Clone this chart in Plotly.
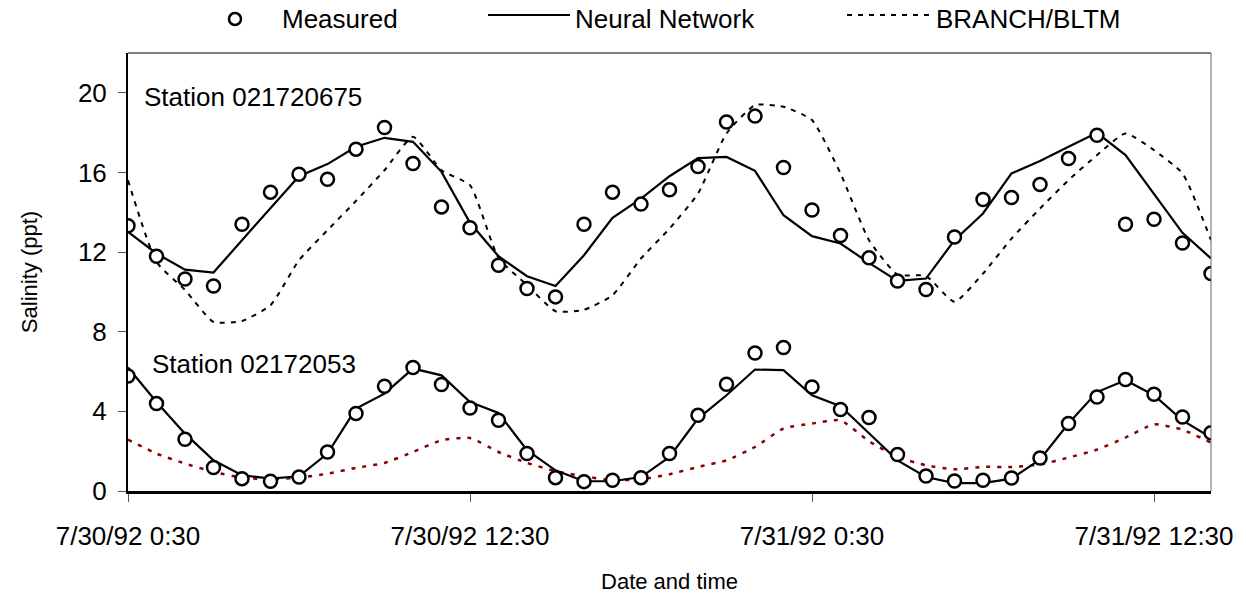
import pandas as pd
import plotly.graph_objects as go

# hourly timestamps 7/30/92 0:30 .. 7/31/92 14:30
times = pd.date_range("1992-07-30 00:30", periods=39, freq="h")

meas_upper = [13.32, 11.79, 10.65, 10.30, 13.40, 15.01, 15.91, 15.66, 17.17, 18.26, 16.45, 14.27, 13.22,
              11.34, 10.17, 9.75, 13.40, 15.01, 14.41, 15.13, 16.30, 18.53, 18.83, 16.25, 14.11, 12.83, 11.71,
              10.55, 10.12, 12.76, 14.64, 14.74, 15.40, 16.70, 17.87, 13.40, 13.65, 12.46, 10.92]
nn_upper = [13.02, 11.93, 11.12, 10.97, 12.60, 14.19, 15.81, 16.42, 17.29, 17.74, 17.54, 16.03, 13.47,
            11.79, 10.79, 10.30, 11.84, 13.72, 14.69, 15.81, 16.72, 16.78, 16.08, 13.85, 12.80, 12.43, 11.46,
            10.55, 10.67, 12.60, 13.94, 15.95, 16.58, 17.29, 17.99, 16.87, 14.91, 12.97, 11.68]
branch_upper = [15.61, 11.50, 10.10, 8.49, 8.54, 9.33, 11.59, 13.10, 14.57, 16.11, 17.79, 16.11, 15.36,
                11.70, 10.35, 9.03, 9.10, 9.83, 11.68, 13.18, 14.94, 17.96, 19.38, 19.30, 18.63, 15.95, 12.60,
                10.87, 10.80, 9.50, 10.92, 12.68, 14.19, 15.61, 16.87, 17.96, 17.12, 15.95, 12.60]

meas_lower = [5.78, 4.39, 2.60, 1.18, 0.62, 0.49, 0.70, 1.96, 3.89, 5.26, 6.20, 5.35, 4.17,
              3.55, 1.88, 0.67, 0.47, 0.54, 0.67, 1.88, 3.80, 5.36, 6.93, 7.21, 5.23, 4.09, 3.69,
              1.83, 0.75, 0.50, 0.54, 0.65, 1.66, 3.39, 4.72, 5.60, 4.86, 3.72, 2.93]
nn_lower = [6.20, 4.47, 2.88, 1.54, 0.79, 0.62, 0.74, 1.88, 4.14, 4.89, 6.15, 5.81, 4.47,
            3.92, 2.05, 1.04, 0.49, 0.49, 0.70, 1.71, 3.64, 4.81, 6.10, 6.07, 4.81, 4.26, 2.90,
            1.54, 0.70, 0.40, 0.40, 0.62, 1.58, 3.39, 4.97, 5.56, 4.81, 3.55, 2.68]
branch_lower = [2.58, 1.88, 1.38, 0.96, 0.67, 0.59, 0.67, 0.87, 1.16, 1.41, 1.96, 2.55, 2.66,
                1.96, 1.41, 1.00, 0.74, 0.54, 0.59, 0.84, 1.21, 1.54, 2.21, 3.14, 3.39, 3.55, 2.50,
                1.71, 1.29, 1.09, 1.21, 1.21, 1.33, 1.68, 2.08, 2.68, 3.35, 3.08, 2.43]

tick_vals = ["1992-07-30 00:30", "1992-07-30 12:30", "1992-07-31 00:30", "1992-07-31 12:30"]
tick_text = ["7/30/92 0:30", "7/30/92 12:30", "7/31/92 0:30", "7/31/92 12:30"]
y_ticks = [0, 4, 8, 12, 16, 20]

FONT = "Liberation Sans, Arial, sans-serif"
NARROW = "Liberation Sans Narrow, Arial Narrow, Liberation Sans, sans-serif"
DARKRED = "#8B0000"

fig = go.Figure()

fig.add_trace(go.Scatter(x=times, y=branch_upper, mode="lines", name="BRANCH/BLTM",
                         line=dict(color="black", width=2, dash="5px,6px", shape="spline", smoothing=0.5)))
fig.add_trace(go.Scatter(x=times, y=branch_lower, mode="lines", name="BRANCH/BLTM (02172053)",
                         line=dict(color=DARKRED, width=2.5, dash="4px,7px", shape="spline", smoothing=0.5)))
fig.add_trace(go.Scatter(x=times, y=nn_upper, mode="lines", name="Neural Network",
                         line=dict(color="black", width=2.2)))
fig.add_trace(go.Scatter(x=times, y=nn_lower, mode="lines", name="Neural Network (02172053)",
                         line=dict(color="black", width=2.2)))
fig.add_trace(go.Scatter(x=times, y=meas_upper, mode="markers", name="Measured",
                         marker=dict(symbol="circle", size=13, color="white",
                                     line=dict(color="black", width=2.5))))
fig.add_trace(go.Scatter(x=times, y=meas_lower, mode="markers", name="Measured (02172053)",
                         marker=dict(symbol="circle", size=13, color="white",
                                     line=dict(color="black", width=2.5))))

# target plot-area box in page pixels (body margin removed below)
W, H = 1246, 594
PL, PR, PT, PB = 128, 1211, 53, 491
L, T, R, B = PL, PT, W - PR, H - PB
PW = PR - PL
PH = PB - PT


def px(xpix):
    return (xpix - PL) / PW


def py(ypix):
    return (PB - ypix) / PH


shapes = [
    dict(type="line", xref="paper", yref="paper", x0=0, x1=1, y0=1, y1=1,
         line=dict(color="black", width=1)),
    dict(type="line", xref="paper", yref="paper", x0=1, x1=1, y0=0, y1=1,
         line=dict(color="#666666", width=1)),
    dict(type="circle", xref="paper", yref="paper", xsizemode="pixel", ysizemode="pixel",
         xanchor=px(235), yanchor=py(19), x0=-6, x1=6, y0=-6, y1=6,
         line=dict(color="black", width=2.5), fillcolor="white"),
    dict(type="line", xref="paper", yref="paper", x0=px(488), x1=px(570), y0=py(15), y1=py(15),
         line=dict(color="black", width=2.2)),
    dict(type="line", xref="paper", yref="paper", x0=px(847), x1=px(930), y0=py(15), y1=py(15),
         line=dict(color="black", width=2.2, dash="5px,6px")),
]

annotations = [
    dict(text="Measured", xref="paper", yref="paper", x=px(280), y=py(19), xanchor="left",
         yanchor="middle", showarrow=False, font=dict(family=FONT, size=26, color="black")),
    dict(text="Neural Network", xref="paper", yref="paper", x=px(573), y=py(19), xanchor="left",
         yanchor="middle", showarrow=False, font=dict(family=FONT, size=26, color="black")),
    dict(text="BRANCH/BLTM", xref="paper", yref="paper", x=px(934), y=py(19), xanchor="left",
         yanchor="middle", showarrow=False, font=dict(family=FONT, size=26, color="black")),
    dict(text="Station 021720675", xref="paper", yref="paper", x=px(142), y=py(97), xanchor="left",
         yanchor="middle", showarrow=False, font=dict(family=FONT, size=26, color="black")),
    dict(text="Station 02172053", xref="paper", yref="paper", x=px(150), y=py(364), xanchor="left",
         yanchor="middle", showarrow=False, font=dict(family=FONT, size=26, color="black")),
]

fig.update_layout(
    width=W, height=H,
    margin=dict(l=L, r=R, t=T, b=B, pad=0, autoexpand=False),
    paper_bgcolor="white", plot_bgcolor="white",
    showlegend=False,
    shapes=shapes, annotations=annotations,
    font=dict(family=FONT, color="black"),
)

fig.update_xaxes(
    range=["1992-07-30 00:30", "1992-07-31 14:30"],
    tickvals=tick_vals, ticktext=tick_text,
    tickfont=dict(family=FONT, size=26, color="black"),
    ticks="outside", ticklen=8, tickwidth=1, tickcolor="#555555",
    ticklabelstandoff=12,
    showline=True, linecolor="black", linewidth=3,
    showgrid=False, zeroline=False, automargin=False,
    title=dict(text="Date and time", font=dict(family=NARROW, size=22, color="black"), standoff=24),
)
fig.update_yaxes(
    range=[0, 22],
    tickvals=y_ticks,
    tickfont=dict(family=FONT, size=26, color="black"),
    ticks="outside", ticklen=8, tickwidth=1, tickcolor="#555555",
    ticklabelstandoff=6,
    showline=True, linecolor="black", linewidth=2,
    showgrid=False, zeroline=False, automargin=False,
    title=dict(text="Salinity (ppt)", font=dict(family=NARROW, size=22, color="black"), standoff=34),
)

fig.write_html("out.html", config={"displayModeBar": False},
               post_script="document.body.style.margin='0px';")
